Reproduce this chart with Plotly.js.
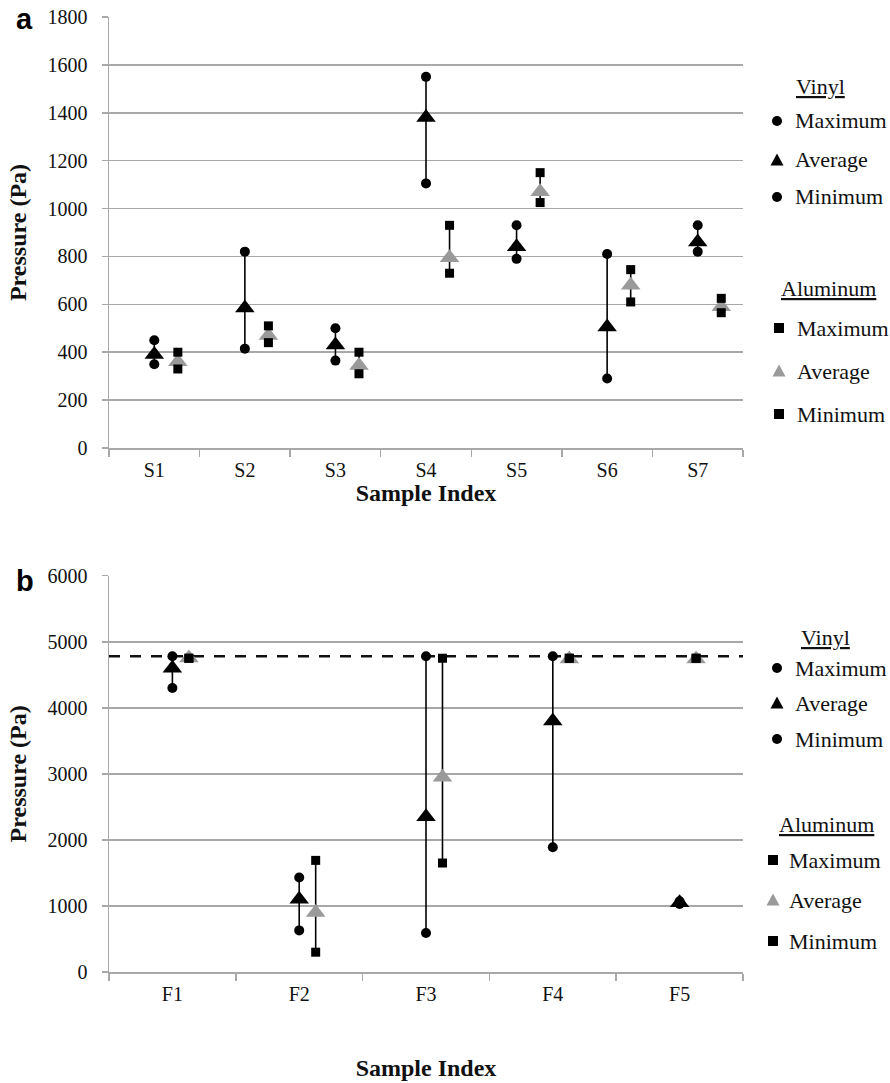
<!DOCTYPE html>
<html>
<head>
<meta charset="utf-8">
<script src="https://cdn.plot.ly/plotly-3.0.1.min.js"></script>
<style>
  html, body { margin: 0; padding: 0; background: #ffffff; }
  #chart { width: 890px; height: 1083px; }
</style>
</head>
<body>
<div id="chart"></div>
<script>
// ---------------- DATA ----------------
// Panel a
const topCategories = ['S1', 'S2', 'S3', 'S4', 'S5', 'S6', 'S7'];
const topVinylMax = [450, 820, 500, 1550, 930, 810, 930];
const topVinylAvg = [390, 585, 430, 1380, 840, 505, 860];
const topVinylMin = [350, 415, 365, 1105, 790, 290, 820];
const topAlumMax  = [400, 510, 400, 930, 1150, 745, 625];
const topAlumAvg  = [360, 470, 345, 795, 1070, 680, 590];
const topAlumMin  = [330, 440, 310, 730, 1025, 610, 565];

// Panel b
const botCategories = ['F1', 'F2', 'F3', 'F4', 'F5'];
const botVinylMax = [4780, 1430, 4780, 4780, 1070];
const botVinylAvg = [4600, 1100, 2350, 3800, 1050];
const botVinylMin = [4300, 630, 590, 1890, 1030];
const botAlumMax  = [4750, 1690, 4750, 4750, 4750];
const botAlumAvg  = [4755, 900, 2950, 4740, 4740];
const botAlumMin  = [4750, 300, 1650, 4750, 4750];
const botLimitLevel = 4780;

const legendLabels = ['Maximum', 'Average', 'Minimum'];
const legendGroups = ['Vinyl', 'Aluminum'];

// ---------------- STYLE / LAYOUT ----------------
const W = 890, H = 1083;
const M = { l: 109, r: 147, t: 17, b: 111 };
const PW = W - M.l - M.r, PH = H - M.t - M.b;
const px2x = p => (p - M.l) / PW;
const py2y = p => (H - M.b - p) / PH;

const SERIF = 'Liberation Serif';
const SANS = 'Liberation Sans';
const GRID = '#a8a8a8';
const GRAY_TRI = '#9a9a9a';
const topAlumOffset = 0.26;
const botAlumOffset = 0.13;

function positions(n, off) { return Array.from({ length: n }, (_, i) => i + 1 + off); }

function rangeLines(xs, mins, maxs, xa, ya) {
  const x = [], y = [];
  for (let i = 0; i < xs.length; i++) {
    x.push(xs[i], xs[i], null);
    y.push(mins[i], maxs[i], null);
  }
  return { type: 'scatter', mode: 'lines', x, y, xaxis: xa, yaxis: ya,
           line: { color: '#000', width: 1.6 }, hoverinfo: 'skip', showlegend: false };
}
function markers(name, xs, ys, xa, ya, symbol, size, color) {
  return { type: 'scatter', mode: 'markers', name, x: xs, y: ys, xaxis: xa, yaxis: ya,
           marker: { symbol, size, color, line: { width: 0 } }, showlegend: false };
}

function panelTraces(cats, vMax, vAvg, vMin, aMax, aAvg, aMin, off, xa, ya) {
  const xv = positions(cats.length, 0);
  const xal = positions(cats.length, off);
  return [
    rangeLines(xv, vMin, vMax, xa, ya),
    rangeLines(xal, aMin, aMax, xa, ya),
    markers('Aluminum Average', xal, aAvg, xa, ya, 'triangle-up', 17, GRAY_TRI),
    markers('Aluminum Maximum', xal, aMax, xa, ya, 'square', 9, '#000'),
    markers('Aluminum Minimum', xal, aMin, xa, ya, 'square', 9, '#000'),
    markers('Vinyl Average', xv, vAvg, xa, ya, 'triangle-up', 17, '#000'),
    markers('Vinyl Maximum', xv, vMax, xa, ya, 'circle', 10, '#000'),
    markers('Vinyl Minimum', xv, vMin, xa, ya, 'circle', 10, '#000')
  ];
}

const traces = [].concat(
  panelTraces(topCategories, topVinylMax, topVinylAvg, topVinylMin,
              topAlumMax, topAlumAvg, topAlumMin, topAlumOffset, 'x', 'y'),
  panelTraces(botCategories, botVinylMax, botVinylAvg, botVinylMin,
              botAlumMax, botAlumAvg, botAlumMin, botAlumOffset, 'x2', 'y2')
);

function xAxis(cats, anchor, titleStandoff) {
  return {
    anchor, domain: [0, 1],
    range: [0.5, cats.length + 0.5],
    tickmode: 'array', tickvals: positions(cats.length, 0), ticktext: cats,
    ticks: '', showgrid: false, zeroline: false,
    showline: true, linecolor: GRID, linewidth: 1.5,
    minor: { tickmode: 'linear', tick0: 0.5, dtick: 1, ticks: 'outside',
             ticklen: 7, tickwidth: 1.5, tickcolor: GRID, showgrid: false },
    tickfont: { family: SERIF, size: 20, color: '#111' },
    ticklabelstandoff: 3,
    title: { text: 'Sample Index', font: { family: SERIF, size: 24, weight: 'bold', color: '#111' }, standoff: titleStandoff }
  };
}
function yAxis(anchor, domain, maxV, step) {
  return {
    anchor, domain, range: [0, maxV], tickmode: 'linear', tick0: 0, dtick: step,
    showgrid: true, gridcolor: GRID, gridwidth: 1.5, zeroline: false,
    showline: true, linecolor: GRID, linewidth: 1.5,
    ticks: 'outside', ticklen: 6, tickwidth: 1.5, tickcolor: GRID,
    tickfont: { family: SERIF, size: 20, color: '#111' },
    ticklabelstandoff: 10,
    title: { text: 'Pressure (Pa)', font: { family: SERIF, size: 24, weight: 'bold', color: '#111' }, standoff: 14 }
  };
}

// ---- custom legend (headings, marker shapes, labels) ----
const shapes = [{
  type: 'line', xref: 'x2 domain', x0: 0, x1: 1, yref: 'y2', y0: botLimitLevel, y1: botLimitLevel,
  line: { color: '#111', width: 2.6, dash: '11px,10px' }, layer: 'below'
}];
const annotations = [];

function markerShape(kind, cx, cy, color) {
  const base = { xref: 'paper', yref: 'paper', xsizemode: 'pixel', ysizemode: 'pixel',
                 xanchor: px2x(cx), yanchor: py2y(cy), fillcolor: color, line: { width: 0 } };
  if (kind === 'circle') return Object.assign(base, { type: 'circle', x0: -5, x1: 5, y0: -5, y1: 5 });
  if (kind === 'square') return Object.assign(base, { type: 'rect', x0: -5, x1: 5, y0: -5, y1: 5 });
  return Object.assign(base, { type: 'path', path: 'M -6.5,-5.5 L 6.5,-5.5 L 0,6.5 Z' });
}
function textAnn(text, x, y, anchor, size, bold) {
  return { xref: 'paper', yref: 'paper', x: px2x(x), y: py2y(y), xanchor: anchor, yanchor: 'middle',
           text, showarrow: false,
           font: { family: SERIF, size, color: '#111', weight: bold ? 'bold' : 'normal' } };
}
function legendBlock(heading, hx, hy, itemYs, mx, tx, kinds, colors) {
  annotations.push(textAnn('<u>' + heading + '</u>', hx, hy, 'center', 22, false));
  for (let i = 0; i < 3; i++) {
    shapes.push(markerShape(kinds[i], mx, itemYs[i], colors[i]));
    annotations.push(textAnn(legendLabels[i], tx, itemYs[i], 'left', 22, false));
  }
}
const vinylKinds = ['circle', 'triangle', 'circle'];
const alumKinds = ['square', 'triangle', 'square'];
const vinylColors = ['#000', '#000', '#000'];
const alumColors = ['#000', GRAY_TRI, '#000'];

legendBlock(legendGroups[0], 820, 87, [121, 160, 197], 777, 793, vinylKinds, vinylColors);
legendBlock(legendGroups[1], 828, 288, [328, 371, 414], 779, 795, alumKinds, alumColors);
legendBlock(legendGroups[0], 825, 637, [668, 703, 739], 777, 793, vinylKinds, vinylColors);
legendBlock(legendGroups[1], 826, 824, [860, 900, 941], 773, 787, alumKinds, alumColors);

// panel letters
annotations.push({ xref: 'paper', yref: 'paper', x: px2x(14), y: py2y(19), xanchor: 'left', yanchor: 'middle',
  text: 'a', showarrow: false, font: { family: SANS, size: 29, weight: 'bold', color: '#000' } });
annotations.push({ xref: 'paper', yref: 'paper', x: px2x(14), y: py2y(581), xanchor: 'left', yanchor: 'middle',
  text: 'b', showarrow: false, font: { family: SANS, size: 29, weight: 'bold', color: '#000' } });

const layout = {
  width: W, height: H,
  margin: M,
  paper_bgcolor: '#ffffff', plot_bgcolor: '#ffffff',
  showlegend: false,
  font: { family: SERIF, color: '#111' },
  xaxis: xAxis(topCategories, 'y', 3),
  yaxis: yAxis('x', [py2y(448), 1], 1800, 200),
  xaxis2: xAxis(botCategories, 'y2', 55),
  yaxis2: yAxis('x2', [0, py2y(575.7)], 6000, 1000),
  shapes, annotations
};

Plotly.newPlot('chart', traces, layout, { displayModeBar: false, staticPlot: true });
</script>
</body>
</html>
